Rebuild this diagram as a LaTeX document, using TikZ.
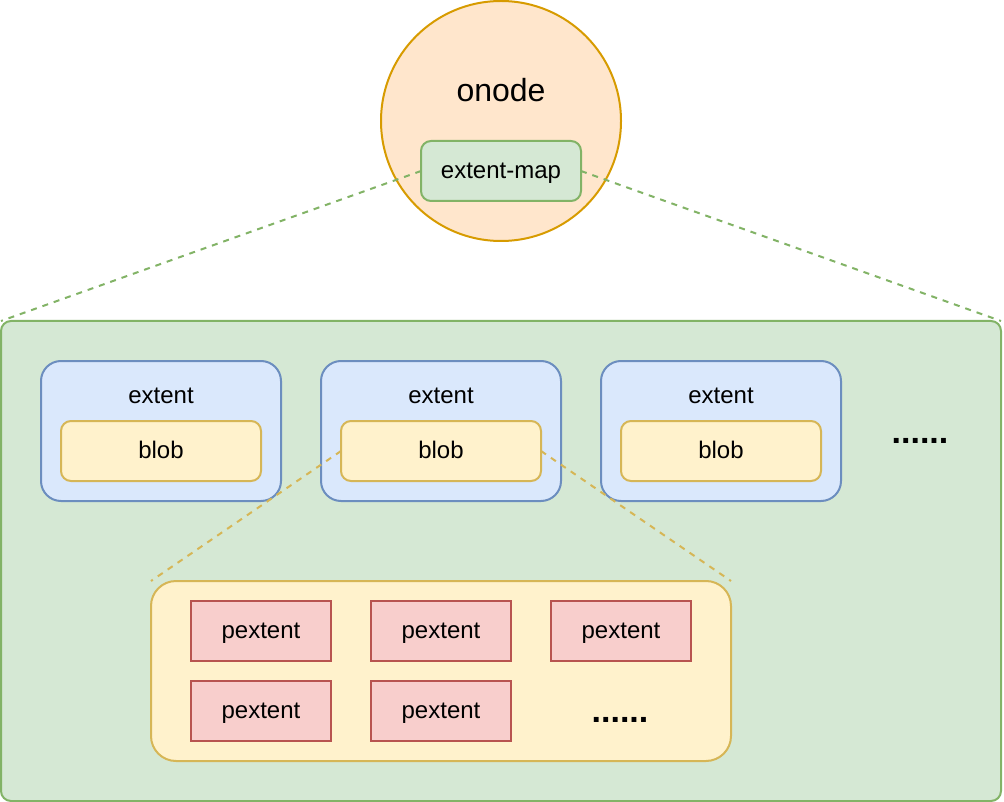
\documentclass[tikz,border=0pt]{standalone}
\usepackage{fontspec}
\setmainfont{Liberation Sans}
\definecolor{orFill}{HTML}{FFE6CC}\definecolor{orLine}{HTML}{D79B00}
\definecolor{grFill}{HTML}{D5E8D4}\definecolor{grLine}{HTML}{82B366}
\definecolor{blFill}{HTML}{DAE8FC}\definecolor{blLine}{HTML}{6C8EBF}
\definecolor{yeFill}{HTML}{FFF2CC}\definecolor{yeLine}{HTML}{D6B656}
\definecolor{rdFill}{HTML}{F8CECC}\definecolor{rdLine}{HTML}{B85450}
\begin{document}
\begin{tikzpicture}[x=1pt,y=-1pt,
  every node/.style={inner sep=0pt, outer sep=0pt},
  lbl/.style={font=\fontsize{24}{28}\selectfont, text=black, text height=15pt, text depth=0pt},
  box/.style={draw, line width=2pt, rounded corners=#1},
  greenbox/.style={box=10pt, fill=grFill, draw=grLine},
  extentbox/.style={box=20pt, fill=blFill, draw=blLine, minimum width=240pt, minimum height=140pt},
  blobbox/.style={box=10pt, fill=yeFill, draw=yeLine, minimum width=200pt, minimum height=60pt, lbl},
  pextbox/.style={draw=rdLine, fill=rdFill, line width=2pt, minimum width=140pt, minimum height=60pt, lbl},
  dots/.style={font=\fontsize{34}{36}\selectfont\bfseries, anchor=base},
  link/.style={line width=2pt, dash pattern=on 6pt off 6pt}]
\useasboundingbox (0,0) rectangle (1004,802);

% outer container
\node[greenbox, minimum width=1000pt, minimum height=480pt] (map) at (501,561) {};

% onode with its extent map
\node[circle, draw=orLine, fill=orFill, line width=2pt, minimum size=240pt] (onode) at (501,121) {};
\node[font=\fontsize{32}{38}\selectfont, anchor=base] (onodelbl) at (501,102) {onode};
\node[greenbox, minimum width=160pt, minimum height=60pt, lbl] (emap) at (501,171) {extent-map};
\draw[link, draw=grLine] (emap.west) -- (map.north west);
\draw[link, draw=grLine] (emap.east) -- (map.north east);

% extents, each holding a blob
\foreach \i/\x in {1/161, 2/441, 3/721} {
  \node[extentbox] (ext\i) at (\x,431) {};
  \node[lbl] (extlbl\i) at (\x,396) {extent};
  \node[blobbox] (blob\i) at (\x,451) {blob};
}
\node[dots] (moreext) at (920,443) {......};

% physical extents of the middle blob
\node[box=25pt, fill=yeFill, draw=yeLine, minimum width=580pt, minimum height=180pt] (pcont) at (441,671) {};
\draw[link, draw=yeLine] (blob2.west) -- (pcont.north west);
\draw[link, draw=yeLine] (blob2.east) -- (pcont.north east);

\node[pextbox] (p1) at (261,631) {pextent};
\node[pextbox] (p2) at (441,631) {pextent};
\node[pextbox] (p3) at (621,631) {pextent};
\node[pextbox] (p4) at (261,711) {pextent};
\node[pextbox] (p5) at (441,711) {pextent};
\node[dots] (morepext) at (620,722) {......};
\end{tikzpicture}
\end{document}
